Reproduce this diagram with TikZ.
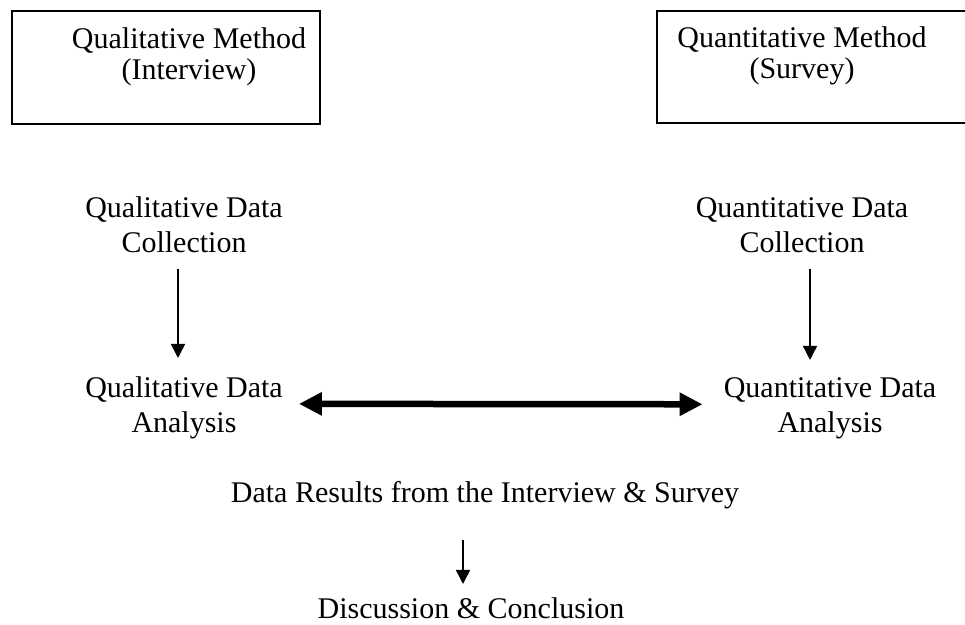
\documentclass[tikz,border=0pt]{standalone}
\usepackage{fontspec}
\setmainfont{Liberation Serif}
\usetikzlibrary{arrows.meta}
\begin{document}
\begin{tikzpicture}[x=1pt,y=-1pt,
  txt/.style={font=\fontsize{30}{35}\selectfont, align=center, inner sep=0pt, anchor=base},
  boxtxt/.style={font=\fontsize{30}{31}\selectfont, align=center, inner sep=0pt, anchor=base},
  framebox/.style={draw, line width=1.6pt, inner sep=0pt},
  thinarr/.style={line width=1.6pt, -{Triangle[width=14pt,length=14pt]}},
  thickarr/.style={line width=6.5pt, {Triangle[width=22pt,length=23pt]}-{Triangle[width=22pt,length=23pt]}}]
\clip (0,0) rectangle (965,624);
\fill[white] (0,0) rectangle (965,624);
% boxes
\node[framebox, minimum width=308pt, minimum height=113pt] (lbox) at (166,67.5) {};
\node[framebox, minimum width=330pt, minimum height=112pt] (rbox) at (822,67) {};
\node[boxtxt] (lmeth) at (189,79) {Qualitative Method\\(Interview)};
\node[boxtxt] (rmeth) at (802,78) {Quantitative Method\\(Survey)};
% texts
\node[txt] (qlcoll) at (184,252) {Qualitative Data\\Collection};
\node[txt] (qncoll) at (802,252) {Quantitative Data\\Collection};
\node[txt] (qlana) at (184,432) {Qualitative Data\\Analysis};
\node[txt] (qnana) at (830,432) {Quantitative Data\\Analysis};
\node[txt] (res) at (485,502) {Data Results from the Interview \& Survey};
\node[txt] (disc) at (471,618) {Discussion \& Conclusion};
% arrows
\draw[thinarr, shorten <=17pt, shorten >=18pt] ([xshift=-6pt]qlcoll.south) -- ([xshift=-6pt]qlana.north);
\draw[thinarr, shorten <=17pt, shorten >=17pt] ([xshift=8pt]qncoll.south) -- ([xshift=-20pt]qnana.north);
\draw[thinarr, shorten <=31pt, shorten >=13pt] ([xshift=-22pt]res.south) -- ([xshift=-8pt]disc.north);
\draw[thickarr, shorten <=16pt, shorten >=21pt] ([yshift=3.5pt]qlana.east) -- ([yshift=3.5pt]qnana.west);
\end{tikzpicture}
\end{document}
